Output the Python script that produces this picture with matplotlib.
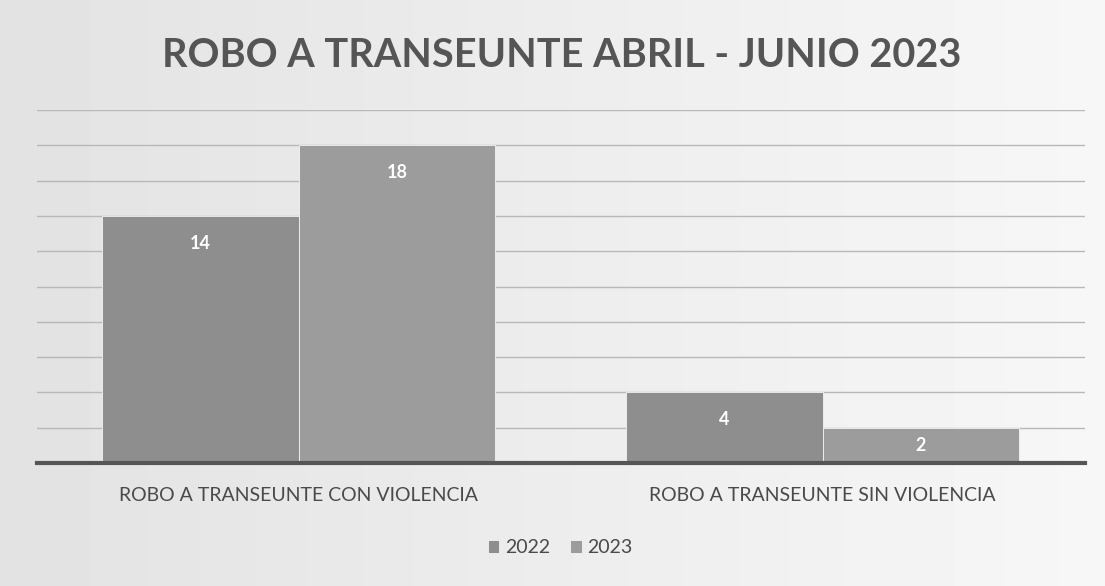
import numpy as np
import matplotlib.pyplot as plt

# Data
categories = ['ROBO A TRANSEUNTE CON VIOLENCIA', 'ROBO A TRANSEUNTE SIN VIOLENCIA']
series_names = ['2022', '2023']
values_2022 = [14, 4]
values_2023 = [18, 2]

colors = ['#8e8e8e', '#9c9c9c']
text_gray = '#4a4a4a'

plt.rcParams['font.family'] = ['Lato', 'DejaVu Sans']

fig = plt.figure(figsize=(11.05, 5.86), dpi=100, facecolor='#ebebeb')

# scanned-paper look: slightly darker on the left, lighter on the right
bg = fig.add_axes([0, 0, 1, 1], zorder=-10)
grad = np.linspace(0, 1, 256)[None, :] * np.ones((16, 1))
bg.imshow(grad, aspect='auto', cmap='gray', vmin=-11.1, vmax=1.4, extent=[0, 1, 0, 1])
bg.axis('off')

ax = fig.add_axes([0.0335, 0.21, 0.948, 0.602])
ax.set_facecolor('none')

x = np.arange(len(categories))
width = 0.375
b1 = ax.bar(x - width / 2, values_2022, width, color=colors[0], label=series_names[0],
            zorder=3, edgecolor='#f4f4f4', linewidth=0.6)
b2 = ax.bar(x + width / 2, values_2023, width, color=colors[1], label=series_names[1],
            zorder=3, edgecolor='#f4f4f4', linewidth=0.6)

for bars in (b1, b2):
    for rect in bars:
        h = rect.get_height()
        y = max(h - 1.55, h / 2)
        ax.text(rect.get_x() + rect.get_width() / 2, y, f'{h:g}',
                ha='center', va='center', color='white', fontsize=13,
                fontweight='bold', zorder=4)

ax.set_xlim(-0.5, 1.5)
ax.set_ylim(0, 20)
ax.set_yticks(np.arange(0, 21, 2))
ax.yaxis.grid(True, color='#b8b8b8', linewidth=1.0, zorder=0)
ax.set_yticklabels([])
ax.tick_params(axis='both', length=0)
for side in ('top', 'right', 'left'):
    ax.spines[side].set_visible(False)
ax.spines['bottom'].set_color('#555555')
ax.spines['bottom'].set_linewidth(3)
ax.spines['bottom'].set_zorder(5)

ax.set_xticks(x)
ax.set_xticklabels(categories, fontsize=14, color=text_gray)
ax.tick_params(axis='x', pad=17)

fig.text(0.508, 0.905, 'ROBO A TRANSEUNTE ABRIL - JUNIO 2023', ha='center', va='center',
         fontsize=28.5, fontweight='bold', color='#555555')

fig.legend(handles=[b1, b2], labels=series_names, loc='center', bbox_to_anchor=(0.507, 0.065),
           ncol=2, frameon=False, fontsize=14, handlelength=0.6, handleheight=0.6,
           handletextpad=0.3, columnspacing=1.0, labelcolor=text_gray)

fig.savefig('out.png', dpi=100, facecolor=fig.get_facecolor())
